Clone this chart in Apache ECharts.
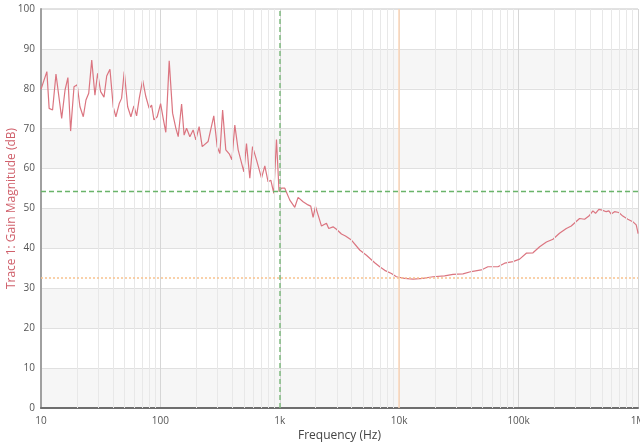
<!DOCTYPE html>
<html>
<head>
<meta charset="utf-8">
<script src="https://cdn.jsdelivr.net/npm/echarts@6/dist/echarts.min.js"></script>
<style>html,body{margin:0;padding:0;background:#fff}#c{width:640px;height:446px}</style>
</head>
<body>
<div id="c"></div>
<script>
var freq = [10,11.2,11.7,12.5,13.35,14.9,15.9,16.8,17.7,18.9,20.1,21.2,22.6,23.8,25.1,26.6,28.3,29.8,31.6,33.7,35.5,37.8,40.3,42.4,45.2,47.3,49.8,53.2,56.6,60,63.2,66.5,71,75.6,80.5,84.4,88.3,94,100.4,105.5,111,118.5,126.5,134.8,141,150.5,158,165.6,176.5,188,198,211,224,251,280,299,315,332,353,377,397,420,448,500,526,561,591,638,703,749,798,841,891,938,986,1033,1101,1213,1335,1423,1567,1725,1817,1900,1990,2092,2234,2459,2570,2793,2982,3283,3548,3981,4670,5315,6237,6870,7565,8605,9480,11100,13050,15800,19200,24000,28200,34200,40200,48700,55300,67100,76400,89600,102000,116000,132000,150000,171000,194000,220000,251000,276000,324000,357000,388000,419000,441000,470000,501000,542000,570000,597000,636000,691000,746000,822000,904000,966000,995000,1000000];
var gain = [79.9,84.3,75.1,74.7,83.7,72.6,79.7,82.8,69.4,80.5,81.0,75.5,73.0,77.2,78.9,87.2,78.4,83.9,79.3,77.9,83.2,84.9,75.4,73.0,76.3,77.6,84.3,75.5,73.0,75.7,73.2,77.6,82.2,78.0,75.1,75.9,72.2,73.0,76.3,72.6,69.1,87.0,73.9,70.1,68.0,76.2,68.4,70.1,68.0,69.7,67.2,70.5,65.5,66.8,73.2,65.5,63.8,74.7,64.7,63.7,62.2,70.9,64.7,59.2,66.3,57.6,65.5,62.2,57.6,60.7,56.7,57.1,53.8,67.3,54.2,55.1,55.1,52.1,50.3,52.8,51.7,50.9,50.6,47.8,50.5,48.4,45.6,46.3,45.0,45.4,44.8,43.6,43.1,42.1,39.6,38.3,36.4,35.4,34.5,33.7,32.9,32.5,32.3,32.5,32.9,33.1,33.5,33.6,34.2,34.6,35.4,35.4,36.3,36.7,37.3,38.8,38.9,40.4,41.6,42.3,43.8,45.0,45.6,47.5,47.3,48.1,49.4,48.8,49.8,49.6,49.2,49.4,48.6,49.2,49.0,48.1,47.3,46.7,45.9,44.2,43.7];
var xTickValues = [10,100,1000,10000,100000,1000000];
var xTickLabels = ['10','100','1k','10k','100k','1M'];
var minorTicks = [20,30,40,50,60,70,80,90,200,300,400,500,600,700,800,900,2000,3000,4000,5000,6000,7000,8000,9000,20000,30000,40000,50000,60000,70000,80000,90000,200000,300000,400000,500000,600000,700000,800000,900000];
var cursorX = 1000, cursorY = 54.4;
var refX = 10000, refY = 32.6;

var chart = echarts.init(document.getElementById('c'), null, {renderer:'canvas'});
var pts = freq.map(function(f,i){return [f, gain[i]];});
var font = "'Open Sans', 'Noto Sans', sans-serif";
chart.setOption({
  animation: false,
  grid: {left:41, right:2, top:9, bottom:38, containLabel:false, outerBoundsMode:'none',
         show:true, borderColor:'#c4c4c4', borderWidth:1, backgroundColor:'transparent'},
  xAxis: {
    type:'log', logBase:10, min:10, max:1000000,
    name:'Frequency (Hz)', nameLocation:'middle', nameGap:22, nameMoveOverlap:false,
    nameTextStyle:{color:'#444', fontSize:12, fontFamily:font},
    axisLine:{show:true, lineStyle:{color:'#6e6e6e', width:2}},
    axisTick:{show:false},
    minorTick:{show:false},
    axisLabel:{color:'#555', fontSize:10, fontFamily:font, margin:8, hideOverlap:false,
      formatter:function(v){var i=xTickValues.indexOf(Math.round(v)); return i>=0?xTickLabels[i]:'';}},
    splitLine:{show:true, lineStyle:{color:'#d6d6d6', width:1}}
  },
  yAxis: {
    type:'value', min:0, max:100, interval:10,
    name:'Trace 1: Gain Magnitude (dB)', nameLocation:'middle', nameGap:23, nameMoveOverlap:false,
    nameTextStyle:{color:'#d0606b', fontSize:12, fontFamily:font},
    axisLine:{show:true, lineStyle:{color:'#a0a0a0', width:2}},
    axisTick:{show:false},
    axisLabel:{color:'#555', fontSize:10, fontFamily:font, margin:6},
    splitLine:{show:true, lineStyle:{color:'#e0e0e0', width:1}},
    splitArea:{show:true, areaStyle:{color:['#f6f6f6','#ffffff']}}
  },
  series: [
    {type:'line', z:1, data:[], silent:true,
     markLine:{silent:true, symbol:'none', animation:false, label:{show:false},
       lineStyle:{color:'#e8e8e8', width:1, type:'solid'},
       data: minorTicks.map(function(v){return {xAxis:v};})}},
    {type:'line', z:3, data:pts, showSymbol:false, symbol:'none',
     lineStyle:{color:'#db7580', width:1.2}},
    {type:'line', z:4, data:[], silent:true,
     markLine:{silent:true, symbol:'none', animation:false, label:{show:false},
       data:[
         {xAxis:refX, lineStyle:{color:'#fbd6b8', width:1.5, type:'solid'}},
         {yAxis:refY, lineStyle:{color:'#f8c28e', width:1.5, type:[2,2]}},
         {xAxis:cursorX, lineStyle:{color:'#7fbb7f', width:1.5, type:[5,3]}},
         {yAxis:cursorY, lineStyle:{color:'#6ab46a', width:1.4, type:[5,3]}}
       ]}}
  ]
});
</script>
</body>
</html>
